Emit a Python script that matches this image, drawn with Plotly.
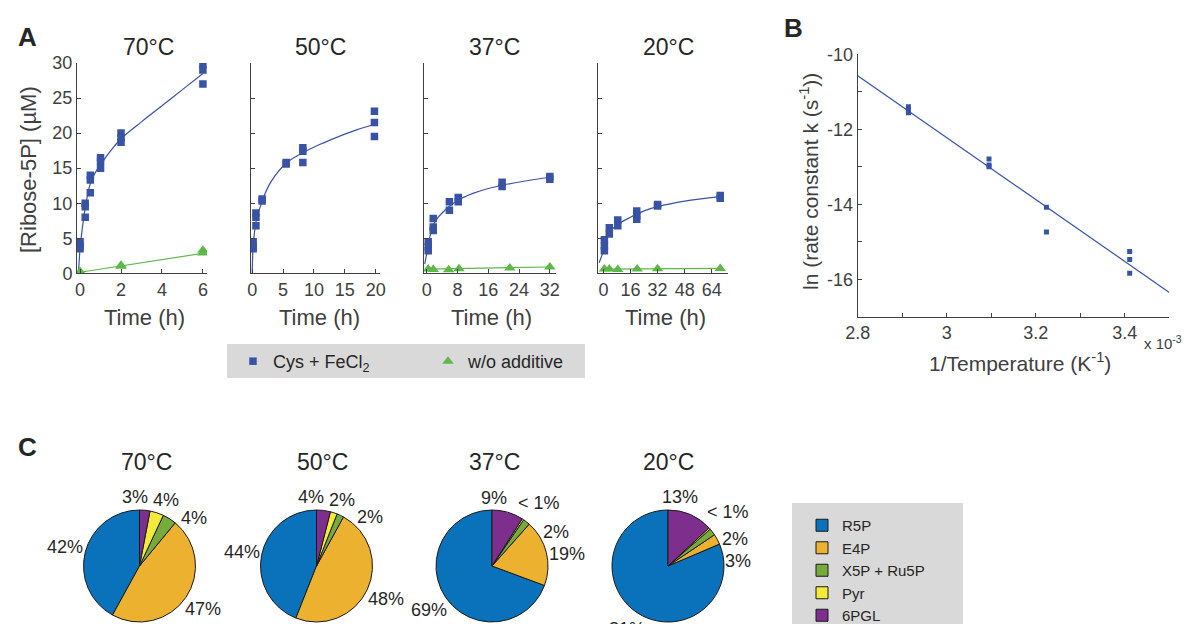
import math
import plotly.graph_objects as go

W, H = 1193, 624
FONT = "Liberation Sans, Arial, sans-serif"
TXT = "#262626"
AX = "#404040"
BLUE = "#3953A4"
GREEN = "#5DB847"
LEG_BG = "#D9D9D9"

# ---------------- Panel A data ----------------
t70 = [0, 0, 0, 0.25, 0.25, 0.25, 0.5, 0.5, 0.5, 1, 1, 1, 2, 2, 2, 6, 6, 6]
v70 = [4.5, 4.0, 3.5, 10.0, 9.5, 8.0, 14.0, 13.3, 11.5, 16.5, 16.0, 15.0, 20.0, 19.3, 18.7, 29.8, 29.0, 27.0]
fit_t70 = [-0.08, 0, 0.1, 0.25, 0.5, 0.75, 1, 1.5, 2, 3, 4, 5, 6]
fit_v70 = [0, 3.5, 6.2, 9.3, 12.8, 14.4, 15.5, 17.5, 19.2, 21.6, 23.9, 26.2, 28.5]
g_t70 = [0, 0, 2, 2, 6, 6]
g_v70 = [0.1, 0.25, 1.0, 1.15, 3.3, 2.9]
gfit_t70 = [0, 6]
gfit_v70 = [0.15, 2.85]

t50 = [0.15, 0.15, 0.15, 0.6, 0.6, 0.6, 1.6, 1.6, 5.5, 5.5, 8.2, 8.2, 8.2, 19.8, 19.8, 19.8]
v50 = [4.5, 3.8, 3.5, 8.6, 8.0, 6.8, 10.6, 10.3, 15.8, 15.6, 17.9, 17.4, 15.8, 23.1, 21.5, 19.5]
fit_t50 = [0, 0.15, 0.6, 1.6, 3, 5.5, 8, 11, 14, 17, 20]
fit_v50 = [0, 3.8, 7.3, 10.3, 13.0, 15.7, 17.1, 18.4, 19.5, 20.5, 21.3]

t37 = [0.4, 0.4, 0.4, 1.7, 1.7, 1.7, 5.9, 5.9, 8.2, 8.2, 19.6, 19.6, 32, 32]
v37 = [4.5, 3.8, 3.2, 7.8, 6.6, 6.1, 10.2, 9.0, 10.8, 10.2, 13.0, 12.4, 13.8, 13.4]
fit_t37 = [-0.5, 0.4, 1, 1.7, 3, 4, 6, 8, 12, 16, 20, 26, 32]
fit_v37 = [1.3, 4.0, 5.6, 6.9, 8.0, 8.6, 9.6, 10.4, 11.4, 12.1, 12.6, 13.2, 13.7]
g_t37 = [0.4, 1.7, 5.7, 8.4, 21.6, 32]
g_v37 = [0.6, 0.55, 0.5, 0.65, 0.75, 0.9]
gfit_t37 = [0, 32]
gfit_v37 = [0.6, 0.9]

t20 = [0.6, 0.6, 0.6, 3.5, 3.5, 8.5, 8.5, 19.7, 19.7, 19.7, 32, 32, 69, 69]
v20 = [4.8, 3.9, 3.2, 6.5, 5.6, 7.6, 6.8, 8.9, 8.2, 7.7, 9.8, 9.6, 11.1, 10.7]
fit_t20 = [-2.5, 0.6, 2, 4, 8, 16, 24, 32, 48, 69]
fit_v20 = [1.5, 3.6, 5.0, 5.9, 6.9, 8.0, 8.9, 9.5, 10.3, 10.95]
g_t20 = [0.6, 3.5, 8.5, 20, 32, 69]
g_v20 = [0.6, 0.6, 0.55, 0.6, 0.65, 0.7]
gfit_t20 = [0, 69]
gfit_v20 = [0.6, 0.7]

temps_A = ["70°C", "50°C", "37°C", "20°C"]
xranges_A = [[-0.15, 6.2], [-0.2, 20.7], [-0.7, 33.6], [-3.0, 73.6]]
xticks_A = [[0, 2, 4, 6], [0, 5, 10, 15, 20], [0, 8, 16, 24, 32], [0, 16, 32, 48, 64]]
yticks_A = [0, 5, 10, 15, 20, 25, 30]

# ---------------- Panel B data ----------------
invT = [2.914, 2.914, 2.914, 3.095, 3.095, 3.095, 3.224, 3.224, 3.411, 3.411, 3.411]
lnk = [-11.40, -11.49, -11.56, -12.79, -12.95, -13.00, -14.08, -14.74, -15.26, -15.47, -15.84]
fitB_x = [2.8, 3.5]
fitB_y = [-10.57, -16.35]
xticksB = [2.8, 2.9, 3.0, 3.1, 3.2, 3.3, 3.4, 3.5]
xtextB = ["2.8", "", "3", "", "3.2", "", "3.4", ""]
yticksB = [-17, -16, -15, -14, -13, -12, -11, -10]
ytextB = ["", "-16", "", "-14", "", "-12", "", "-10"]

# ---------------- Panel C data ----------------
pie_labels = ["R5P", "E4P", "X5P + Ru5P", "Pyr", "6PGL"]
pie_colors = ["#0A72BA", "#EDB130", "#77AC3C", "#F3EA3A", "#7E2F8E"]
pie_values = {
    "70°C": [42, 47, 4, 4, 3],
    "50°C": [44, 48, 2, 2, 4],
    "37°C": [69, 19, 2, 0.5, 9],
    "20°C": [81, 3, 2, 0.5, 13],
}
pie_texts = {
    "70°C": ["42%", "47%", "4%", "4%", "3%"],
    "50°C": ["44%", "48%", "2%", "2%", "4%"],
    "37°C": ["69%", "19%", "2%", "< 1%", "9%"],
    "20°C": ["81%", "3%", "2%", "< 1%", "13%"],
}

fig = go.Figure()

def px_x(a, b):
    return [a / W, b / W]

def px_y(top, bottom):
    return [1 - bottom / H, 1 - top / H]

A_xdom = [(77, 207), (251, 380), (424, 556), (598.3, 728)]
A_ydom = (63, 273.3)

sets = [
    (t70, v70, fit_t70, fit_v70, g_t70, g_v70, gfit_t70, gfit_v70),
    (t50, v50, fit_t50, fit_v50, None, None, None, None),
    (t37, v37, fit_t37, fit_v37, g_t37, g_v37, gfit_t37, gfit_v37),
    (t20, v20, fit_t20, fit_v20, g_t20, g_v20, gfit_t20, gfit_v20),
]

axis_common = dict(showline=True, linecolor=AX, linewidth=1, ticks="inside", ticklen=4, tickcolor=AX,
                   showgrid=False, zeroline=False, automargin=False,
                   tickfont=dict(size=18, color=AX, family=FONT))

for i, (tb, vb, ft, fv, tg, vg, gft, gfv) in enumerate(sets):
    xa = "x" if i == 0 else f"x{i+1}"
    ya = "y" if i == 0 else f"y{i+1}"
    fig.add_trace(go.Scatter(x=ft, y=fv, mode="lines", line=dict(color=BLUE, width=1.2, shape="spline"),
                             xaxis=xa, yaxis=ya, showlegend=False, hoverinfo="skip"))
    if gft is not None:
        fig.add_trace(go.Scatter(x=gft, y=gfv, mode="lines", line=dict(color=GREEN, width=1.2),
                                 xaxis=xa, yaxis=ya, showlegend=False, hoverinfo="skip"))
        fig.add_trace(go.Scatter(x=tg, y=vg, mode="markers",
                                 marker=dict(symbol="triangle-up", size=10, color=GREEN),
                                 xaxis=xa, yaxis=ya, name="w/o additive", legend="legend",
                                 showlegend=(i == 0), legendrank=2))
    fig.add_trace(go.Scatter(x=tb, y=vb, mode="markers",
                             marker=dict(symbol="square", size=7.5, color=BLUE),
                             xaxis=xa, yaxis=ya, name="Cys + FeCl<sub>2</sub>", legend="legend",
                             showlegend=(i == 0), legendrank=1))

    axkey = "xaxis" if i == 0 else f"xaxis{i+1}"
    aykey = "yaxis" if i == 0 else f"yaxis{i+1}"
    fig.layout[axkey] = dict(domain=px_x(*A_xdom[i]), anchor=ya, range=xranges_A[i],
                             tickvals=xticks_A[i], **axis_common)
    fig.layout[aykey] = dict(domain=px_y(*A_ydom), anchor=xa, range=[0, 30], tickvals=yticks_A,
                             showticklabels=(i == 0), **axis_common)

# Panel B
fig.add_trace(go.Scatter(x=fitB_x, y=fitB_y, mode="lines", line=dict(color=BLUE, width=1.2),
                         xaxis="x5", yaxis="y5", showlegend=False, hoverinfo="skip"))
fig.add_trace(go.Scatter(x=invT, y=lnk, mode="markers", marker=dict(symbol="square", size=5, color=BLUE),
                         xaxis="x5", yaxis="y5", showlegend=False))
fig.layout["xaxis5"] = dict(domain=px_x(857.7, 1169.3), anchor="y5", range=[2.8, 3.5],
                            tickvals=xticksB, ticktext=xtextB, **axis_common)
fig.layout["yaxis5"] = dict(domain=px_y(54.3, 316.8), anchor="x5", range=[-17, -10],
                            tickvals=yticksB, ticktext=ytextB, **axis_common)

ann = []
def text(x, y, s, size, bold=False, angle=0, color=TXT, xanchor="center"):
    ann.append(dict(x=x / W, y=1 - y / H, xref="paper", yref="paper", text=(f"<b>{s}</b>" if bold else s),
                    showarrow=False, xanchor=xanchor, yanchor="middle", textangle=angle,
                    font=dict(size=size, color=color, family=FONT)))

# Panel C pies (slices start at 12 o'clock, R5P going counter-clockwise)
pie_centers = [139.5, 316.5, 492, 668]
pie_r = 56
pie_cy = 566
LBL = 18
HH = 0.5 * LBL

def half_w(s):
    return 0.29 * LBL * len(s)

def dist(s, a):
    th = math.radians(a)
    return pie_r + 3 + abs(math.sin(th)) * half_w(s) + abs(math.cos(th)) * HH

for (temp, cx) in zip(temps_A, pie_centers):
    vals = pie_values[temp]
    tot = sum(vals)
    fig.add_trace(go.Pie(
        labels=pie_labels, values=vals, textinfo="none", sort=False,
        direction="counterclockwise", rotation=-360 * vals[0] / tot,
        marker=dict(colors=pie_colors, line=dict(color="#1a1a1a", width=1)),
        domain=dict(x=px_x(cx - pie_r, cx + pie_r), y=px_y(pie_cy - pie_r, pie_cy + pie_r)),
        legend="legend2", hoverinfo="label+percent",
    ))
    # percentage labels: slice mid-angles (clockwise from 12 o'clock), spread apart when crowded
    order = list(range(len(vals)))[::-1]
    cum = 0.0
    ks, angs = [], []
    for k in order:
        ks.append(k)
        angs.append(360 * (cum + vals[k] / 2) / tot)
        cum += vals[k]
    texts = [pie_texts[temp][k] for k in ks]
    for _ in range(40):
        for j in range(len(angs) - 1):
            a = angs[j]
            th = math.radians(a)
            d = dist(texts[j], a)
            need_h = (half_w(texts[j]) + half_w(texts[j + 1]) + 10) / max(d * abs(math.cos(th)), 1e-6)
            need_v = (2 * HH + 3) / max(d * abs(math.sin(th)), 1e-6)
            need = math.degrees(min(need_h, need_v))
            gap = angs[j + 1] - angs[j]
            if gap < need:
                deficit = need - gap
                angs[j] -= 0.4 * deficit
                angs[j + 1] += 0.6 * deficit
    for s, a in zip(texts, angs):
        th = math.radians(a)
        d = dist(s, a)
        text(cx + d * math.sin(th), pie_cy - d * math.cos(th), s, LBL)

text(27, 37, "A", 26, bold=True)
text(793, 28, "B", 26, bold=True)
text(27, 447, "C", 26, bold=True)
for temp, cx in zip(temps_A, [148, 320, 494, 668]):
    text(cx, 47, temp, 23)
for cx in [144, 319, 491, 665]:
    text(cx, 317, "Time (h)", 22, color=AX)
text(29, 170, "[Ribose-5P] (µM)", 22, angle=-90, color=AX)
text(1020, 362, "1/Temperature (K<sup>-1</sup>)", 21, color=AX)
text(809, 182, "ln (rate constant k (s<sup>-1</sup>))", 21, angle=-90, color=AX)
text(1163, 342, "x 10<sup>-3</sup>", 15, color=AX)
for temp, cx in zip(temps_A, [146, 322, 494, 668]):
    text(cx, 462, temp, 23)

# grey legend boxes
shapes = [
    dict(type="rect", xref="paper", yref="paper", x0=227 / W, x1=585 / W, y0=1 - 378 / H, y1=1 - 344 / H,
         fillcolor=LEG_BG, line=dict(width=0), layer="below"),
    dict(type="rect", xref="paper", yref="paper", x0=792 / W, x1=963 / W, y0=0, y1=1 - 503 / H,
         fillcolor=LEG_BG, line=dict(width=0), layer="below"),
]

fig.update_layout(
    width=W, height=H, margin=dict(l=0, r=0, t=0, b=0, autoexpand=False),
    paper_bgcolor="white", plot_bgcolor="rgba(0,0,0,0)",
    font=dict(family=FONT, color=TXT),
    annotations=ann, shapes=shapes,
    showlegend=True,
    legend=dict(orientation="h", x=233 / W, y=1 - 343 / H, xanchor="left", yanchor="top",
                bgcolor="rgba(0,0,0,0)", font=dict(size=18, color=TXT, family=FONT),
                entrywidth=150, traceorder="normal"),
    legend2=dict(orientation="v", x=802 / W, y=1 - 509 / H, xanchor="left", yanchor="top",
                 bgcolor="rgba(0,0,0,0)", font=dict(size=15, color=TXT, family=FONT),
                 traceorder="normal"),
)

fig.write_html("out.html", config={"displayModeBar": False},
               post_script="document.body.style.margin='0';document.body.style.overflow='hidden';")
